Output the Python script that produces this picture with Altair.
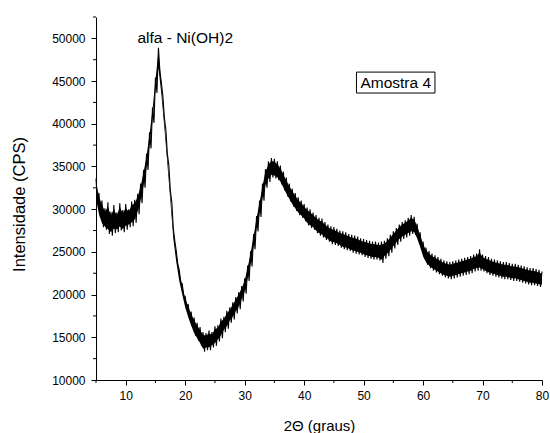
import altair as alt
import pandas as pd

# 2-theta grid (0.5 deg steps) and upper / lower envelope of the noisy XRD trace
x_start, x_step = 5.0, 0.5
upper = [33600, 31900, 31000, 30100, 30800, 29700, 30500, 29600, 30700, 29900,
         30600, 30000, 30900, 31100, 31800, 33000, 34600, 36500, 39000, 41900,
         45400, 48900, 44800, 40700, 36500, 32200, 27800, 25100, 22900, 21300,
         19800, 18900, 18000, 17300, 16700, 16200, 15600, 15500, 15800, 15600,
         16300, 16400, 17200, 17400, 18100, 18500, 19100, 19700, 20300, 21000,
         21900, 23400, 25100, 27100, 29200, 31000, 33000, 34700, 35600, 36000,
         35900, 35600, 35100, 34400, 33700, 33000, 32400, 31900, 31400, 31000,
         30600, 30200, 30000, 29600, 29300, 29000, 28900, 28500, 28200, 28000,
         27900, 27700, 27500, 27400, 27300, 27100, 27000, 26900, 26800, 26600,
         26500, 26400, 26300, 26200, 26200, 26100, 26200, 26300, 26600, 27000,
         27400, 27800, 28200, 28500, 28700, 29000, 29300, 29100, 28300, 27300,
         26200, 25500, 25100, 24800, 24600, 24400, 24200, 24000, 23900, 23800,
         23900, 24000, 24100, 24200, 24300, 24400, 24500, 24700, 24800, 25300,
         24700, 24500, 24400, 24200, 24100, 24000, 23900, 23800, 23800, 23700,
         23600, 23600, 23500, 23400, 23300, 23200, 23100, 23100, 23000, 22900,
         22700]
lower = [30800, 29000, 27900, 27600, 27100, 26900, 27200, 27300, 27500, 27300,
         27600, 27900, 28000, 28400, 29400, 30700, 32500, 34600, 37100, 40100,
         43600, 46100, 43200, 39300, 35100, 30800, 26300, 23600, 21400, 19800,
         18300, 17100, 16100, 15200, 14600, 14000, 13300, 13500, 13500, 13800,
         14000, 14500, 14900, 15600, 16000, 16700, 17100, 17800, 18300, 19200,
         20100, 21600, 23300, 25300, 27400, 29100, 31000, 32500, 33200, 33700,
         33600, 33400, 32900, 32200, 31500, 30900, 30300, 29800, 29300, 29000,
         28600, 28100, 27800, 27600, 27200, 26900, 26700, 26400, 26200, 25900,
         25800, 25700, 25500, 25300, 25200, 25100, 24900, 24800, 24700, 24600,
         24400, 24300, 24200, 24100, 24100, 24000, 23700, 24200, 24500, 24900,
         25400, 25800, 26200, 26500, 26700, 26900, 27100, 27000, 26300, 25300,
         24200, 23500, 23100, 22800, 22600, 22400, 22200, 22000, 21900, 21800,
         21900, 22000, 22100, 22200, 22300, 22400, 22500, 22700, 22800, 22800,
         22700, 22500, 22300, 22200, 22100, 22000, 21900, 21800, 21800, 21700,
         21600, 21600, 21500, 21400, 21300, 21200, 21100, 21100, 21000, 20900,
         20900]

x_major = [10, 20, 30, 40, 50, 60, 70, 80]
x_minor = [5, 15, 25, 35, 45, 55, 65, 75]
y_major = [10000, 15000, 20000, 25000, 30000, 35000, 40000, 45000, 50000]
y_minor = [12500, 17500, 22500, 27500, 32500, 37500, 42500, 47500, 52500]

peak_label = ["alfa - Ni(OH)2"]
peak_pos = [20.0, 49400]
sample_label = ["Amostra 4"]
sample_pos = [55.4, 44800]
sample_box = [48.8, 62.0, 43600, 46050]

rows = []
for i, (u, l) in enumerate(zip(upper, lower)):
    xv = x_start + x_step * i
    mid = (u + l) / 2
    half = (u - l) / 2 * 0.7
    rows.append({"x": xv, "y": u, "o": 2 * i, "lo": mid - half, "hi": mid + half})
    if xv + x_step / 2 <= 80:
        rows.append({"x": xv + x_step / 2, "y": l, "o": 2 * i + 1, "lo": None, "hi": None})
df = pd.DataFrame(rows)

FONT = "Liberation Sans"
W, H = 446, 363
xs = alt.Scale(domain=[5, 80], nice=False, zero=False)
ys = alt.Scale(domain=[10000, 52500], nice=False, zero=False)

xaxis = alt.Axis(values=x_major, tickSize=5, title="2\u0398 (graus)",
                 labelFontSize=12, titleFontSize=15, titleFont=FONT,
                 labelFont=FONT, titleFontWeight="normal",
                 titleY=50, titleBaseline="alphabetic", orient="bottom",
                 labelPadding=5, labelFlush=False, grid=False)
yaxis = alt.Axis(values=y_major, tickSize=5, title="Intensidade (CPS)",
                 labelFontSize=12, titleFontSize=16.5, titleFont=FONT,
                 labelFont=FONT, titleFontWeight="normal",
                 titleX=-77, titleY=187, titleBaseline="middle", orient="left",
                 labelPadding=6, format="d", labelFlush=False, grid=False)

base = alt.Chart(df).encode(
    x=alt.X("x:Q", scale=xs, axis=xaxis, title="2\u0398 (graus)"),
)

line = base.mark_line(color="black", strokeWidth=1.1).encode(
    y=alt.Y("y:Q", scale=ys, axis=yaxis, title="Intensidade (CPS)"),
    order="o:Q",
)

area = base.transform_filter("datum.lo != null").mark_area(color="black", opacity=1).encode(
    y=alt.Y("lo:Q", scale=ys, title="Intensidade (CPS)"),
    y2="hi:Q",
)

xminor = alt.Chart(pd.DataFrame({"x": x_minor})).mark_rule(color="black", strokeWidth=1).encode(
    x=alt.X("x:Q", scale=xs, title="2\u0398 (graus)"),
    y=alt.value(H),
    y2=alt.value(H + 3),
)
yminor = alt.Chart(pd.DataFrame({"y": y_minor})).mark_rule(color="black", strokeWidth=1).encode(
    y=alt.Y("y:Q", scale=ys, title="Intensidade (CPS)"),
    x=alt.value(-3),
    x2=alt.value(0),
)

box = alt.Chart(pd.DataFrame({"x": [sample_box[0]], "x2": [sample_box[1]],
                              "y": [sample_box[2]], "y2": [sample_box[3]]})).mark_rect(
    fill="white", stroke="black", strokeWidth=1
).encode(x=alt.X("x:Q", scale=xs, title="2\u0398 (graus)"), x2="x2:Q",
         y=alt.Y("y:Q", scale=ys, title="Intensidade (CPS)"), y2="y2:Q")

t1 = alt.Chart(pd.DataFrame({"x": [peak_pos[0]], "y": [peak_pos[1]], "t": peak_label})).mark_text(
    font=FONT, fontSize=15.5, color="black", baseline="alphabetic", align="center"
).encode(x=alt.X("x:Q", scale=xs, title="2\u0398 (graus)"),
         y=alt.Y("y:Q", scale=ys, title="Intensidade (CPS)"), text="t:N")

t2 = alt.Chart(pd.DataFrame({"x": [sample_pos[0]], "y": [sample_pos[1]], "t": sample_label})).mark_text(
    font=FONT, fontSize=15.5, color="black", baseline="middle", align="center"
).encode(x=alt.X("x:Q", scale=xs, title="2\u0398 (graus)"),
         y=alt.Y("y:Q", scale=ys, title="Intensidade (CPS)"), text="t:N")

chart = alt.layer(line, area, xminor, yminor, box, t1, t2).properties(
    width=W, height=H,
    autosize=alt.AutoSizeParams(type="none"),
    padding={"left": 96, "top": 17, "right": 8, "bottom": 54},
    background="white",
).configure_view(stroke=None).configure_axis(
    grid=False, domainColor="black", tickColor="black", labelColor="black", titleColor="black",
    domainWidth=1, tickWidth=1,
)

chart.save("out.html", embed_options={"renderer": "svg", "actions": False})
